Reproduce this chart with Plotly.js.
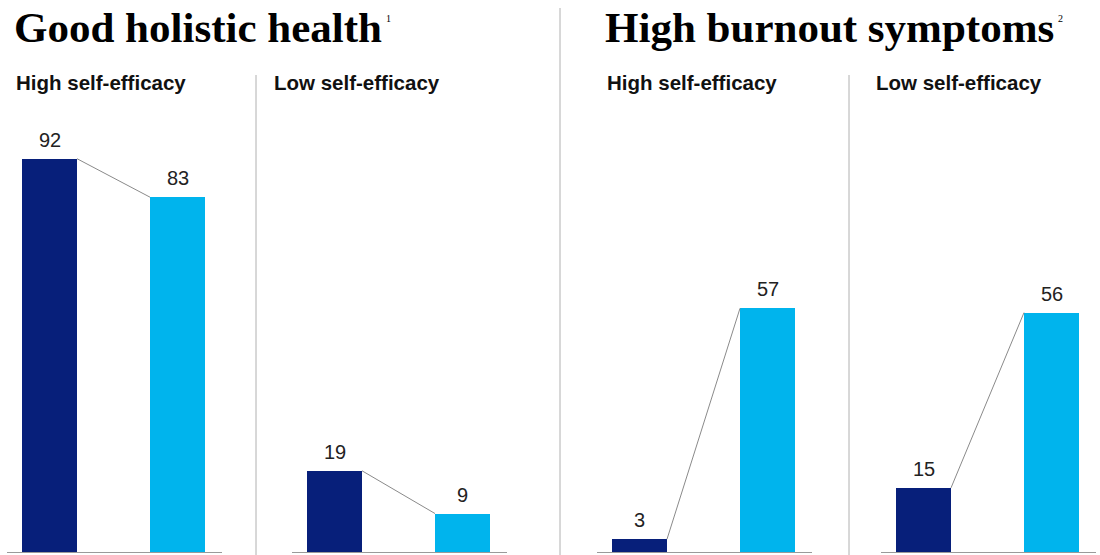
<!DOCTYPE html>
<html>
<head>
<meta charset="utf-8">
<script src="https://cdn.plot.ly/plotly-3.0.1.min.js"></script>
<style>
  html, body { margin: 0; padding: 0; background: #ffffff; }
  #chart { width: 1100px; height: 555px; }
</style>
</head>
<body>
<div id="chart"></div>
<script>
// Share of respondents (%), by self-efficacy group
const groupTitles = ["Good holistic health", "High burnout symptoms"];
const groupNotes = ["1", "2"];
const panelTitles = ["High self-efficacy", "Low self-efficacy", "High self-efficacy", "Low self-efficacy"];
const firstBar = [92, 19, 3, 15];
const secondBar = [83, 9, 57, 56];

const W = 1100, H = 555;
const NAVY = "#071f7a";
const CYAN = "#00b4ed";
const BAR_W = 55 / 128;               // bar width in category units
const panelLeft = [7, 292, 597, 881];  // pixel left edge of each panel baseline
const panelWidth = 215;
const xRange = [-42.5 / 128, 172.5 / 128];
const yDomain = [3 / H, (3 + 427.5) / H];

const data = [];
const layout = {
  width: W, height: H,
  margin: { l: 0, r: 0, t: 0, b: 0 },
  paper_bgcolor: "#ffffff",
  plot_bgcolor: "rgba(0,0,0,0)",
  showlegend: false,
  bargap: 0,
  annotations: [],
  shapes: []
};

for (let i = 0; i < 4; i++) {
  const n = i + 1;
  const xa = n === 1 ? "x" : "x" + n;
  const ya = n === 1 ? "y" : "y" + n;
  const xKey = n === 1 ? "xaxis" : "xaxis" + n;
  const yKey = n === 1 ? "yaxis" : "yaxis" + n;
  const vals = [firstBar[i], secondBar[i]];

  data.push({
    type: "bar",
    x: [0, 1],
    y: vals,
    width: [BAR_W, BAR_W],
    marker: { color: [NAVY, CYAN], line: { width: 0 } },
    hoverinfo: "skip",
    xaxis: xa, yaxis: ya
  });
  // connector from the top-right corner of the first bar to the top-left of the second
  data.push({
    type: "scatter",
    mode: "lines",
    x: [BAR_W / 2, 1 - BAR_W / 2],
    y: vals,
    line: { color: "#8a8a8a", width: 1 },
    hoverinfo: "skip",
    cliponaxis: false,
    xaxis: xa, yaxis: ya
  });

  layout[xKey] = {
    domain: [panelLeft[i] / W, (panelLeft[i] + panelWidth) / W],
    range: xRange,
    showgrid: false, zeroline: false, showticklabels: false, ticks: "",
    showline: true, linecolor: "#9a9a9a", linewidth: 1,
    fixedrange: true,
    anchor: ya
  };
  layout[yKey] = {
    domain: yDomain,
    range: [0, 100],
    showgrid: false, zeroline: false, showticklabels: false, ticks: "",
    showline: false,
    fixedrange: true,
    anchor: xa
  };

  vals.forEach((v, k) => {
    layout.annotations.push({
      xref: xa, yref: ya, x: k, y: v,
      text: String(v),
      showarrow: false,
      xanchor: "center", yanchor: "bottom", yshift: 6,
      font: { family: "Liberation Sans, Arial, sans-serif", size: 20, color: "#222222" }
    });
  });

  layout.annotations.push({
    xref: "paper", yref: "paper",
    x: [14, 272, 605, 874][i] / W, y: 1 - 69 / H,
    text: "<b>" + panelTitles[i] + "</b>",
    showarrow: false, xanchor: "left", yanchor: "top",
    font: { family: "Liberation Sans, Arial, sans-serif", size: 20.5, color: "#111111" }
  });
}

// group headings with footnote markers
const headX = [12, 603];
const noteX = [384, 1056];
groupTitles.forEach((t, g) => {
  layout.annotations.push({
    xref: "paper", yref: "paper",
    x: headX[g] / W, y: 1 - 2 / H,
    text: "<b>" + t + "</b>",
    showarrow: false, xanchor: "left", yanchor: "top",
    font: { family: "Liberation Serif, Times New Roman, serif", size: 43, color: "#000000" }
  });
  layout.annotations.push({
    xref: "paper", yref: "paper",
    x: noteX[g] / W, y: 1 - 11 / H,
    text: groupNotes[g],
    showarrow: false, xanchor: "left", yanchor: "top",
    font: { family: "Liberation Serif, Times New Roman, serif", size: 10, color: "#000000" }
  });
});

// dividers between groups and between panels
const divider = (x, y0) => ({
  type: "line", xref: "paper", yref: "paper",
  x0: x / W, x1: x / W, y0: 0, y1: 1 - y0 / H,
  line: { color: "#b0b0b0", width: 1 }
});
layout.shapes.push(divider(560, 8));
layout.shapes.push(divider(256, 75));
layout.shapes.push(divider(849, 75));

Plotly.newPlot("chart", data, layout, { displayModeBar: false, staticPlot: true });
</script>
</body>
</html>
